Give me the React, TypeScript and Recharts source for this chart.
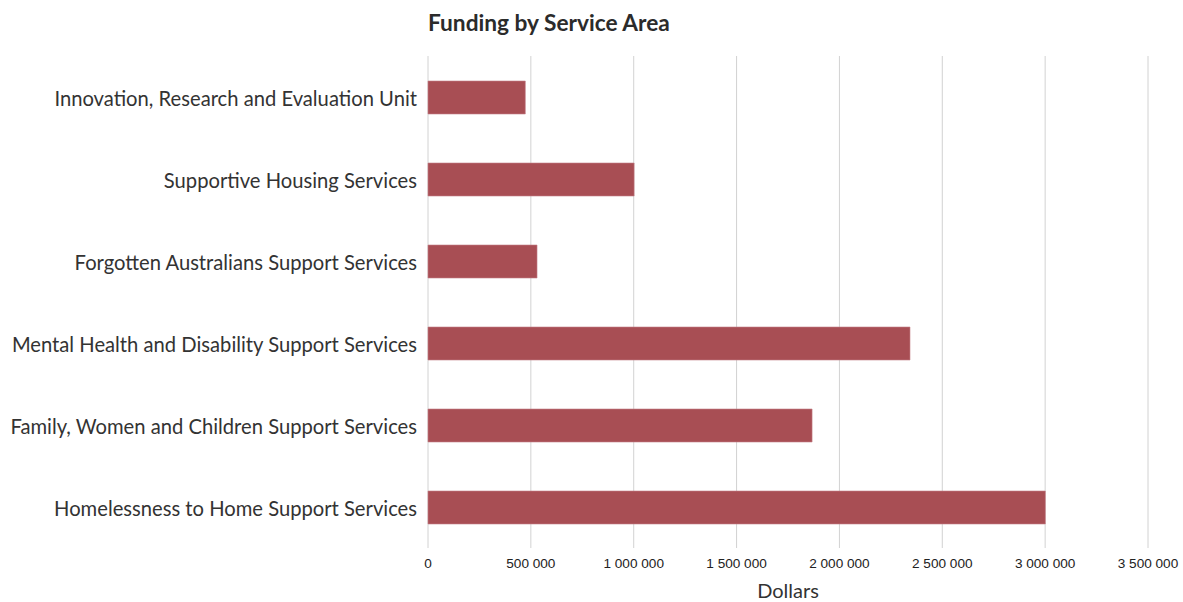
// Funding by Service Area: horizontal bar chart
import { BarChart, Bar, XAxis, YAxis, CartesianGrid } from 'recharts';

const areas = [
  'Innovation, Research and Evaluation Unit',
  'Supportive Housing Services',
  'Forgotten Australians Support Services',
  'Mental Health and Disability Support Services',
  'Family, Women and Children Support Services',
  'Homelessness to Home Support Services',
];
const funding = [473000, 1002000, 530000, 2343000, 1867000, 3001000];
const dollarTicks = [0, 500000, 1000000, 1500000, 2000000, 2500000, 3000000, 3500000];

const data = areas.map((area, i) => ({ area, funding: funding[i] }));

const fmt = (v: number) => v.toLocaleString('en-US').replace(/,/g, ' ');

export default function App() {
  return (
    <div style={{ position: 'absolute', left: 0, top: 0, width: 1183, height: 602, background: '#fff' }}>
      <div
        style={{
          position: 'absolute',
          left: 428,
          top: 9,
          fontFamily: 'Lato, sans-serif',
          fontWeight: 700,
          fontSize: 22.7,
          color: '#2b2b2b',
        }}
      >
        Funding by Service Area
      </div>
      <BarChart
        width={1183}
        height={602}
        data={data}
        layout="vertical"
        margin={{ top: 56, right: 35, bottom: 0, left: 0 }}
        barSize={33}
      >
        <CartesianGrid horizontal={false} stroke="#d2d2d2" />
        <XAxis
          type="number"
          domain={[0, 3500000]}
          ticks={dollarTicks}
          tickFormatter={fmt}
          axisLine={false}
          tickLine={false}
          tickMargin={4}
          height={54}
          tick={{ fontFamily: 'Liberation Sans, Arial, sans-serif', fontSize: 13.6, fill: '#222' }}
          label={{
            value: 'Dollars',
            position: 'insideBottom',
            offset: 4,
            style: { fontFamily: 'Lato, sans-serif', fontSize: 20, fill: '#333' },
          }}
        />
        <YAxis
          type="category"
          dataKey="area"
          width={428}
          axisLine={false}
          tickLine={false}
          tickMargin={5}
          interval={0}
          tick={{ fontFamily: 'Lato, sans-serif', fontSize: 20.2, fill: '#333', dy: 2 }}
        />
        <Bar dataKey="funding" fill="#a84e54" stroke="#c48088" strokeWidth={0.6} isAnimationActive={false} />
      </BarChart>
    </div>
  );
}
